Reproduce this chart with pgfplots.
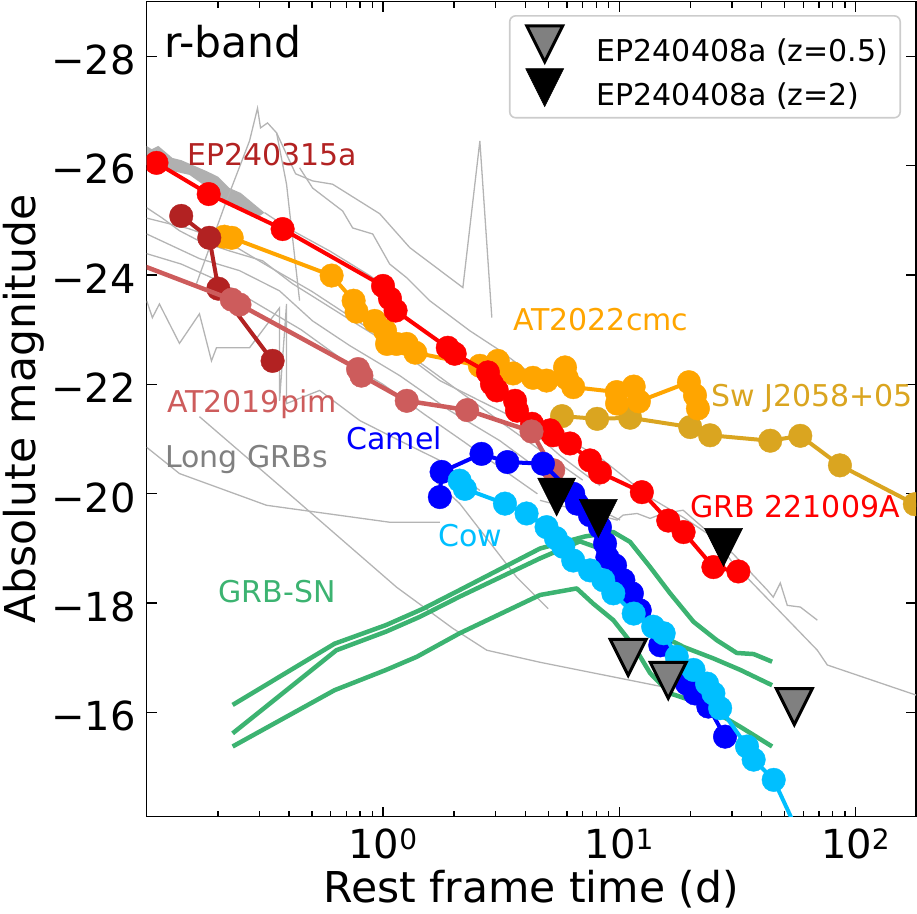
\documentclass[border=0pt]{standalone}
\usepackage{fontspec}
\setmainfont{DejaVu Sans}
\usepackage{pgfplots}
\pgfplotsset{compat=1.18}
\definecolor{cRed}{HTML}{FF0000}
\definecolor{cFire}{HTML}{B22222}
\definecolor{cOrange}{HTML}{FFA500}
\definecolor{cGold}{HTML}{DAA520}
\definecolor{cIndian}{HTML}{CD5C5C}
\definecolor{cBlue}{HTML}{0000FF}
\definecolor{cSky}{HTML}{00BFFF}
\definecolor{cGreen}{HTML}{3CB371}
\definecolor{cGrayL}{HTML}{B4B4B4}
\definecolor{cGrayB}{HTML}{B0B0B0}
\definecolor{cGrayT}{HTML}{808080}
\pgfdeclareplotmark{tridown}{%
  \pgfpathmoveto{\pgfqpoint{-\pgfplotmarksize}{\pgfplotmarksize}}%
  \pgfpathlineto{\pgfqpoint{\pgfplotmarksize}{\pgfplotmarksize}}%
  \pgfpathlineto{\pgfqpoint{0pt}{-\pgfplotmarksize}}%
  \pgfpathclose
  \pgfusepathqfillstroke
}
\pgfplotsset{
  gline/.style={color=cGrayL, line width=1.3bp, no marks, forget plot},
  series/.style={color=#1, line width=4bp, line join=round, mark=*, mark size=11.8bp,
     mark options={solid, line width=0.4bp, fill=#1, draw=#1}, forget plot},
  snline/.style={color=cGreen, line width=4.5bp, line join=round, no marks, forget plot},
}
\newcommand{\ann}[4]{\node[anchor=base west, inner sep=0pt, text=#1, font=\fontsize{30bp}{36bp}\selectfont] at (axis description cs:#2,#3) {#4};}
\begin{document}
\begin{tikzpicture}
\begin{axis}[
  scale only axis, width=769.3bp, height=815bp,
  xmode=log, xmin=0.1, xmax=180,
  ymin=-29, ymax=-14.1, y dir=reverse,
  xtick={1,10,100},
  xticklabels={10\textsuperscript{0},10\textsuperscript{1},10\textsuperscript{2}},
  minor xtick={0.2,0.3,0.4,0.5,0.6,0.7,0.8,0.9,2,3,4,5,6,7,8,9,20,30,40,50,60,70,80,90},
  ytick={-28,-26,-24,-22,-20,-18,-16},
  yticklabels={−28,−26,−24,−22,−20,−18,−16},
  minor ytick={},
  tick align=inside,
  major tick length=10bp, minor tick length=6bp,
  every tick/.style={black, line width=1.4bp},
  axis line style={line width=1.6bp, black},
  tick label style={font=\fontsize{40bp}{48bp}\selectfont},
  xticklabel style={anchor=base, inner sep=0pt, yshift=-41.5bp},
  yticklabel style={anchor=east, inner sep=0pt, xshift=-10.9bp, yshift=-3.7bp},
  xlabel={Rest frame time (d)}, ylabel={Absolute magnitude},
  label style={font=\fontsize{42.5bp}{50bp}\selectfont},
  xlabel style={at={(axis description cs:0.5,-0.1061)}, anchor=base, inner sep=0pt},
  ylabel style={at={(axis description cs:-0.1439,0.5)}, anchor=base, inner sep=0pt},
  clip marker paths=true,
  legend style={at={(0.9805,0.9834)}, anchor=north east,
    draw=black!20, line width=1.6bp, rounded corners=6bp,
    fill=white, fill opacity=0.8, text opacity=1, draw opacity=1,
    inner xsep=10bp, inner ysep=9bp, row sep=3.7bp,
    font=\fontsize{30bp}{36bp}\selectfont,
    /tikz/every odd column/.append style={column sep=22bp}},
  legend cell align=left,
  legend image code/.code={%
    \path[draw=none, fill=none] (-25bp,-12bp) rectangle (28bp,26bp);
    \draw[#1, fill opacity=1, draw opacity=1] plot coordinates {(0bp,7bp)};
  },
]
% ---- Long GRBs (grey) ----
\addplot[fill=cGrayB, draw=none, forget plot] coordinates {(0.095,-26.42)(0.105,-26.30)(0.112,-26.36)(0.1285,-26.14)(0.14,-26.10)(0.1791,-25.90)(0.20,-25.80)(0.2239,-25.59)(0.25,-25.50)(0.2916,-25.26)(0.3152,-25.14)(0.2916,-25.04)(0.2175,-25.35)(0.1517,-25.83)(0.095,-26.03)} -- cycle;
\addplot[gline] coordinates {(0.3152,-25.14)(0.4024,-24.84)(0.5942,-24.44)(0.8783,-23.99)(1.017,-23.80)};
\addplot[gline] coordinates {(0.1624,-23.84)(0.2134,-25.26)(0.2723,-26.45)(0.2944,-27.05)(0.3032,-26.69)(0.3246,-26.78)(0.3544,-26.60)(0.3907,-25.66)(0.4436,-23.53)};
\addplot[gline] coordinates {(0.3544,-26.60)(0.4267,-25.85)(0.5036,-25.72)(0.6118,-25.66)(0.9683,-25.12)(1.298,-24.50)(2.177,-23.77)(2.569,-26.45)(2.887,-23.22)};
\addplot[gline] coordinates {(0.4436,-25.96)(0.5036,-25.59)(0.6749,-25.17)(0.7440,-24.86)(0.9045,-24.75)(1.067,-24.20)(1.260,-23.95)(1.577,-23.53)(2.330,-22.98)(3.123,-22.62)(4.613,-22.07)};
\addplot[gline] coordinates {(0.1,-25.23)(0.1165,-25.04)(0.1376,-24.81)(0.1672,-24.62)(0.2241,-24.44)(0.3092,-24.26)(0.4143,-23.84)(0.5393,-23.53)(0.7968,-23.07)(1.177,-22.62)(1.739,-22.07)(2.569,-21.70)(3.796,-21.34)(5.608,-20.70)(8.284,-20.15)};
\addplot[gline] coordinates {(0.1,-25.04)(0.15,-24.85)(0.22,-24.60)(0.33,-24.15)(0.5,-23.70)(0.75,-23.20)(1.1,-22.75)(1.6,-22.25)(2.3,-21.75)(3.3,-21.25)(4.8,-20.75)(7.0,-20.25)};
\addplot[gline] coordinates {(0.1,-24.75)(0.1672,-24.30)(0.2470,-24.08)(0.3649,-23.71)(0.5036,-23.16)(0.7226,-22.71)(1.177,-22.16)(1.917,-21.52)(3.123,-20.97)(4.613,-20.43)(6.817,-19.88)(10.07,-19.52)};
\addplot[gline] coordinates {(0.1,-24.39)(0.14,-24.20)(0.2,-23.90)(0.3,-23.45)(0.45,-23.00)(0.7,-22.40)(1.0,-22.00)(1.5,-21.45)(2.2,-20.95)(3.2,-20.45)(4.5,-20.00)};
\addplot[gline] coordinates {(0.1,-23.53)(0.1057,-23.22)(0.1132,-23.47)(0.1376,-22.75)(0.1672,-23.29)(0.1880,-22.43)(0.1974,-22.67)(0.2723,-22.67)(0.3649,-23.40)(0.3649,-21.70)(0.3907,-23.47)(0.3907,-21.65)(0.5393,-21.89)(0.7968,-21.34)(1.177,-20.97)(1.739,-20.61)(2.569,-20.06)};
\addplot[gline] coordinates {(0.1,-20.85)(0.1376,-20.37)(0.3214,-19.79)(1.067,-19.48)(1.739,-19.48)};
\addplot[gline] coordinates {(0.1672,-21.41)(0.4308,-19.88)(1.143,-18.29)(1.974,-17.54)(2.750,-17.14)(4.613,-16.92)(15.32,-16.47)};
\addplot[gline] coordinates {(1.6,-20.30)(2.113,-19.82)(3.686,-18.47)(5.0,-17.90)};
\addplot[gline] coordinates {(5.0,-21.20)(8.284,-20.66)(13.49,-19.93)(18.62,-19.57)(25.0,-19.20)(30.33,-18.73)(68.83,-17.14)(75.88,-16.87)(180,-16.32)};
\addplot[gline] coordinates {(4.613,-19.88)(9.779,-19.52)(10.37,-19.61)(11.89,-19.64)(13.49,-19.55)(15.32,-19.64)(18.62,-19.70)(30.33,-18.90)(42.25,-18.24)(44.80,-18.11)(47.97,-18.37)(51.36,-17.96)(58.31,-17.93)(68.83,-17.69)};
% ---- GRB-SN (green) ----
\addplot[snline] coordinates {(0.231,-16.14)(0.624,-17.26)(1.03,-17.60)(1.48,-17.90)(2.11,-18.24)(4.62,-19.00)(7.16,-19.22)(9.43,-19.30)(11.1,-19.12)(13.5,-18.66)(16.4,-18.18)(20.6,-17.66)(25.9,-17.32)(31.4,-17.09)(37.0,-17.07)(44.3,-16.93)};
\addplot[snline] coordinates {(0.231,-15.62)(0.635,-17.14)(1.03,-17.48)(1.43,-17.75)(2.11,-18.12)(4.62,-18.82)(6.81,-19.13)(8.28,-19.00)(10.6,-18.33)(12.8,-17.78)(14.4,-17.45)(18.7,-17.20)(25.0,-16.99)(32.5,-16.78)(44.3,-16.50)};
\addplot[snline] coordinates {(0.231,-15.38)(0.624,-16.41)(1.03,-16.78)(1.39,-17.02)(2.11,-17.45)(4.62,-18.15)(6.60,-18.27)(7.76,-17.99)(9.43,-17.69)(10.7,-17.39)(11.8,-17.14)(13.5,-16.72)(16.4,-16.35)(19.95,-16.23)(25.9,-15.99)(32.5,-15.74)(44.3,-15.38)};
% ---- Sw J2058+05 ----
\addplot[series=cGold] coordinates {(5.72,-21.42)(8.05,-21.37)(11.1,-21.39)(19.95,-21.22)(24.2,-21.07)(43.5,-20.97)(58.3,-21.06)(85.8,-20.52)(178,-19.81)(200,-19.70)};
% ---- AT2022cmc ----
\addplot[series=cOrange] coordinates {(0.213,-24.70)(0.229,-24.68)(0.606,-23.99)(0.751,-23.53)(0.773,-23.33)(0.922,-23.16)(1.02,-22.98)(1.04,-22.74)(1.14,-22.74)(1.26,-22.74)(1.37,-22.58)(2.57,-22.34)(3.06,-22.43)(3.12,-22.25)(3.55,-22.20)(4.31,-22.12)(4.92,-22.07)(5.89,-22.31)(6.0,-22.11)(6.38,-21.95)(9.75,-21.86)(9.78,-21.65)(11.5,-21.96)(12.1,-21.69)(19.7,-22.04)(20.9,-21.80)(21.5,-21.56)};
% ---- GRB 221009A ----
\addplot[series=cRed] coordinates {(0.110,-26.05)(0.183,-25.48)(0.376,-24.84)(1.00,-23.80)(1.07,-23.57)(1.13,-23.35)(1.88,-22.67)(2.01,-22.56)(2.78,-22.22)(2.89,-22.01)(3.03,-21.89)(3.62,-21.70)(3.69,-21.52)(4.27,-21.28)(5.09,-21.16)(5.24,-21.07)(6.18,-20.92)(7.51,-20.61)(8.28,-20.39)(12.45,-20.03)(16.1,-19.51)(18.7,-19.30)(25.0,-18.66)(31.9,-18.58)};
% ---- EP240315a ----
\addplot[series=cFire] coordinates {(0.140,-25.08)(0.184,-24.68)(0.201,-23.75)(0.341,-22.43)};
% ---- AT2019pim ----
\addplot[series=cIndian, line width=4.5bp] coordinates {(0.05,-24.64)(0.229,-23.55)(0.247,-23.46)(0.784,-22.28)(0.81,-22.16)(1.26,-21.70)(2.27,-21.53)(4.25,-21.14)(5.25,-20.43)};
% ---- Camel ----
\addplot[series=cBlue] coordinates {(1.74,-19.94)(1.77,-20.40)(2.61,-20.73)(3.36,-20.58)(4.75,-20.55)(6.38,-20.00)(6.62,-19.82)(7.51,-19.61)(8.28,-19.39)(8.7,-19.09)(8.9,-18.84)(9.59,-18.69)(10.4,-18.42)(11.3,-18.18)(12.2,-17.87)(14.9,-17.23)(19.3,-16.53)(20.9,-16.35)(23.8,-16.11)(28.0,-15.56)};
% ---- Cow ----
\addplot[series=cSky] coordinates {(2.11,-20.24)(2.22,-20.09)(3.28,-19.82)(4.05,-19.64)(4.92,-19.39)(5.39,-19.19)(5.79,-19.03)(6.38,-18.78)(7.51,-18.60)(8.55,-18.42)(9.43,-18.18)(11.5,-17.81)(13.9,-17.57)(15.4,-17.45)(17.5,-17.02)(20.6,-16.78)(23.5,-16.53)(25.0,-16.35)(26.7,-16.08)(34.7,-15.38)(37.0,-15.14)(45.0,-14.77)(58.2,-13.73)};
% ---- EP240408a ----
\addplot[only marks, mark=tridown, mark size=18bp, mark options={solid, fill=cGrayT, draw=black, line width=3bp}] coordinates {(10.9,-17.01)(16.1,-16.59)(55.0,-16.11)};
\addlegendentry{EP240408a (z=0.5)}
\addplot[only marks, mark=tridown, mark size=19bp, mark options={solid, fill=black, draw=black, line width=0.5bp}] coordinates {(5.43,-19.94)(8.15,-19.55)(27.6,-19.02)};
\addlegendentry{EP240408a (z=2)}
% ---- annotations ----
\node[anchor=base west, inner sep=0pt, font=\fontsize{42.5bp}{50bp}\selectfont] at (axis description cs:0.0226,0.9319) {r-band};
\ann{cFire}{0.0524}{0.7994}{EP240315a}
\ann{cOrange}{0.4761}{0.5969}{AT2022cmc}
\ann{cGold}{0.7334}{0.5025}{Sw J2058+05}
\ann{cIndian}{0.0264}{0.4963}{AT2019pim}
\ann{cGrayT}{0.0238}{0.4288}{Long GRBs}
\ann{cBlue}{0.2596}{0.4497}{Camel}
\ann{cSky}{0.3791}{0.3313}{Cow}
\ann{cRed}{0.7067}{0.3675}{GRB 221009A}
\ann{cGreen}{0.0932}{0.2620}{GRB-SN}
\end{axis}
\pgfresetboundingbox
\path[use as bounding box] (current axis.south west) ++(-146.7bp,-97.5bp) rectangle ++(917bp,914bp);
\end{tikzpicture}
\end{document}
